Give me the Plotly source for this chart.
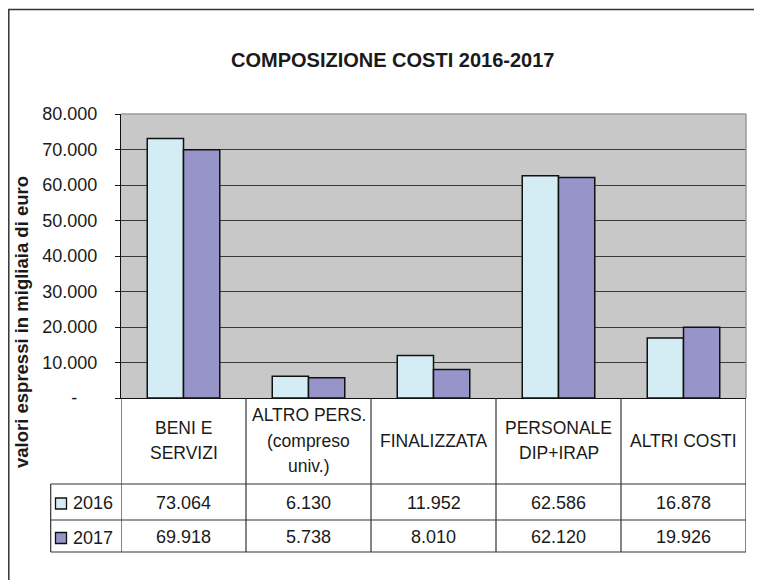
import plotly.graph_objects as go

# ---- data ----
categories = ["BENI E SERVIZI", "ALTRO PERS. (compreso univ.)", "FINALIZZATA",
              "PERSONALE DIP+IRAP", "ALTRI COSTI"]
header_labels = ["BENI E<br>SERVIZI", "ALTRO PERS.<br>(compreso<br>univ.)", "FINALIZZATA",
                 "PERSONALE<br>DIP+IRAP", "ALTRI COSTI"]
series_names = ["2016", "2017"]
values_2016 = [73064, 6130, 11952, 62586, 16878]
values_2017 = [69918, 5738, 8010, 62120, 19926]
table_2016 = ["73.064", "6.130", "11.952", "62.586", "16.878"]
table_2017 = ["69.918", "5.738", "8.010", "62.120", "19.926"]
tick_vals = [0, 10000, 20000, 30000, 40000, 50000, 60000, 70000, 80000]
tick_text = ["-\u00a0\u00a0\u00a0\u00a0", "10.000", "20.000", "30.000", "40.000",
             "50.000", "60.000", "70.000", "80.000"]
title_text = "COMPOSIZIONE COSTI 2016-2017"
ytitle_text = "valori espressi in migliaia di euro"

# ---- style ----
C2016 = "#D4ECF3"
C2017 = "#9694C8"
FONT = "Liberation Sans, Arial, sans-serif"
TXT = "#1a1a1a"
LINE = "#333333"

OFF = 8  # page body margin
W, H = 762 - OFF, 580 - OFF
L, R, T, B = 121 - OFF, 746 - OFF, 114 - OFF, 398 - OFF
PW, PH = R - L, B - T


def px(x):
    """reference-window x pixel -> paper x"""
    return (x - OFF - L) / PW


def py(y):
    """reference-window y pixel -> paper y"""
    return (B - (y - OFF)) / PH


x_idx = list(range(len(categories)))

fig = go.Figure()
fig.add_trace(go.Bar(x=x_idx, y=values_2016, name=series_names[0],
                     marker=dict(color=C2016, line=dict(color="#111111", width=1.5))))
fig.add_trace(go.Bar(x=x_idx, y=values_2017, name=series_names[1],
                     marker=dict(color=C2017, line=dict(color="#111111", width=1.5))))

shapes = []
annotations = []

# plot area top/right border (gray)
shapes.append(dict(type="line", xref="paper", yref="paper", x0=0, x1=1, y0=1, y1=1,
                   line=dict(color="#9a9a9a", width=1.5)))
shapes.append(dict(type="line", xref="paper", yref="paper", x0=1, x1=1, y0=0, y1=1,
                   line=dict(color="#9a9a9a", width=1.5)))

# outer chart frame
shapes.append(dict(type="rect", xref="paper", yref="paper",
                   x0=px(8.8), x1=px(790), y0=py(9.5), y1=py(610),
                   line=dict(color=LINE, width=1.5)))

# table geometry
tab_left = 50.7
row_lines = [484, 520, 552]
for yy in row_lines:
    shapes.append(dict(type="line", xref="paper", yref="paper",
                       x0=px(tab_left), x1=1, y0=py(yy), y1=py(yy),
                       line=dict(color=LINE, width=1.2)))
shapes.append(dict(type="line", xref="paper", yref="paper",
                   x0=px(tab_left), x1=px(tab_left), y0=py(484), y1=py(552),
                   line=dict(color=LINE, width=1.2)))
for i in range(len(categories) + 1):
    shapes.append(dict(type="line", xref="x", yref="paper",
                       x0=i - 0.5, x1=i - 0.5, y0=py(398), y1=py(552),
                       line=dict(color=LINE, width=1.2)))

# header labels (one annotation per line for Excel-like line spacing)
HDR_MID, HDR_STEP = 440.5, 25.5
for i, lab in enumerate(header_labels):
    lines = lab.split("<br>")
    n = len(lines)
    for k, ln in enumerate(lines):
        yy = HDR_MID + (k - (n - 1) / 2) * HDR_STEP
        annotations.append(dict(x=i, xref="x", y=py(yy), yref="paper", text=ln,
                                showarrow=False, xanchor="center", yanchor="middle",
                                font=dict(family=FONT, size=17.5, color=TXT)))

# values rows
row_y = [503, 537]
for rows, yy in zip([table_2016, table_2017], row_y):
    for i, v in enumerate(rows):
        annotations.append(dict(x=i, xref="x", y=py(yy), yref="paper", text=v,
                                showarrow=False, xanchor="center", yanchor="middle",
                                font=dict(family=FONT, size=18, color=TXT)))

# legend keys in table
for name, col, yy in zip(series_names, [C2016, C2017], [503.5, 538]):
    shapes.append(dict(type="rect", xref="paper", yref="paper",
                       x0=px(55.5), x1=px(66.5), y0=py(yy - 5.5), y1=py(yy + 5.5),
                       fillcolor=col, line=dict(color="#111111", width=1.3)))
    annotations.append(dict(x=px(71), xref="paper", y=py(yy - 0.5), yref="paper", text=name,
                            showarrow=False, xanchor="left", yanchor="middle",
                            font=dict(family=FONT, size=18, color=TXT)))

# title
annotations.append(dict(x=px(392), xref="paper", y=py(60), yref="paper", text="<b>" + title_text + "</b>",
                        showarrow=False, xanchor="center", yanchor="middle",
                        font=dict(family=FONT, size=20, color=TXT)))
# y title
annotations.append(dict(x=px(21), xref="paper", y=py(322), yref="paper", text="<b>" + ytitle_text + "</b>",
                        showarrow=False, xanchor="center", yanchor="middle", textangle=-90,
                        font=dict(family=FONT, size=18.5, color=TXT)))

fig.update_layout(
    width=W, height=H, autosize=False,
    margin=dict(l=L, r=W - R, t=T, b=H - B, pad=0),
    paper_bgcolor="white", plot_bgcolor="#C8C8C8",
    barmode="group", bargap=0.42, bargroupgap=0,
    showlegend=False,
    shapes=shapes, annotations=annotations,
    font=dict(family=FONT, size=18, color=TXT),
)
fig.update_xaxes(range=[-0.5, 4.5], showticklabels=False, showgrid=False, zeroline=False,
                 showline=True, linecolor="#111111", linewidth=1.2, ticks="", fixedrange=True)
fig.update_yaxes(range=[0, 80000], tickvals=tick_vals, ticktext=tick_text,
                 showgrid=True, gridcolor="#3a3a3a", gridwidth=1.2, zeroline=False,
                 showline=True, linecolor="#111111", linewidth=1.2,
                 ticks="outside", ticklen=5, tickcolor="#111111", tickwidth=1.2,
                 ticklabelstandoff=14,
                 tickfont=dict(family=FONT, size=18, color=TXT), fixedrange=True)

fig.write_html("out.html")
